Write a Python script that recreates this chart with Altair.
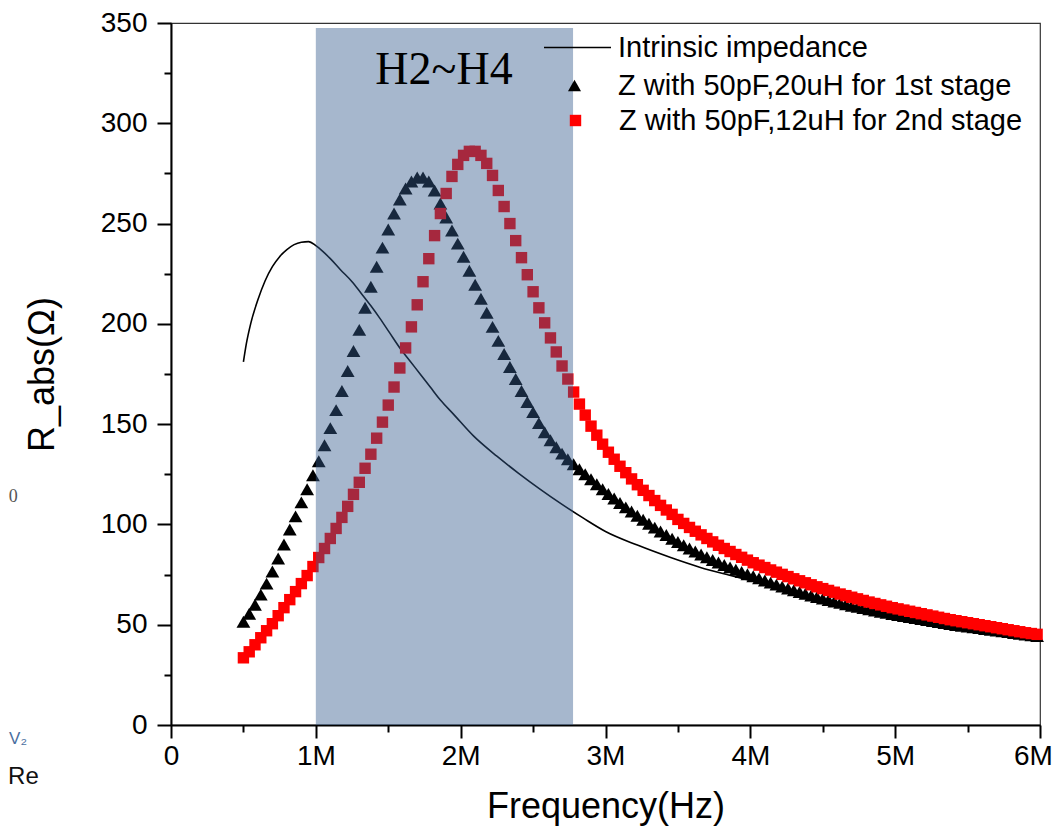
import altair as alt
import pandas as pd

# ---------------- data ----------------
series_names = ["Intrinsic impedance",
                "Z with 50pF,20uH for 1st stage",
                "Z with 50pF,12uH for 2nd stage"]

# intrinsic impedance curve (MHz, ohm)
line_freq = [0.50, 0.52, 0.55, 0.60, 0.65, 0.70, 0.75, 0.80, 0.85, 0.90, 0.95,
             1.00, 1.05, 1.10, 1.17, 1.25, 1.31, 1.38, 1.44, 1.51, 1.58, 1.65,
             1.72, 1.79, 1.86, 1.95, 2.09, 2.25, 2.40, 2.55, 2.70, 2.85, 3.00,
             3.22, 3.45, 3.65, 3.85, 4.00, 4.20, 4.41, 4.60, 4.80, 5.00, 5.25,
             5.50, 5.75, 6.00]
line_r = [181, 190, 200, 212, 221.5, 228.5, 233.5, 237, 239.5, 240.7, 241,
          239, 236, 232.5, 227, 221, 215.5, 209, 203, 195.5, 188, 181.5,
          175, 168.5, 162, 155, 144, 134, 125.5, 117.5, 110, 103, 96.5,
          89.7, 83.5, 78.7, 74.8, 72.1, 68.3, 63, 59.5, 56.5, 53.5, 50,
          47, 44.3, 41.8]

# frequency sweep of the two marker series (MHz)
sweep_freq = [0.50, 0.54, 0.58, 0.62, 0.66, 0.70, 0.74, 0.78, 0.82, 0.86,
              0.90, 0.94, 0.98, 1.02, 1.06, 1.10, 1.14, 1.18, 1.22, 1.26,
              1.30, 1.34, 1.38, 1.42, 1.46, 1.50, 1.54, 1.58, 1.62, 1.66,
              1.70, 1.74, 1.78, 1.82, 1.86, 1.90, 1.94, 1.98, 2.02, 2.06,
              2.10, 2.14, 2.18, 2.22, 2.26, 2.30, 2.34, 2.38, 2.42, 2.46,
              2.50, 2.54, 2.58, 2.62, 2.66, 2.70, 2.74, 2.78, 2.82, 2.86,
              2.90, 2.94, 2.98, 3.02, 3.06, 3.10, 3.14, 3.18, 3.22, 3.26,
              3.30, 3.34, 3.38, 3.42, 3.46, 3.50, 3.54, 3.58, 3.62, 3.66,
              3.70, 3.74, 3.78, 3.82, 3.86, 3.90, 3.94, 3.98, 4.02, 4.06,
              4.10, 4.14, 4.18, 4.22, 4.26, 4.30, 4.34, 4.38, 4.42, 4.46,
              4.50, 4.54, 4.58, 4.62, 4.66, 4.70, 4.74, 4.78, 4.82, 4.86,
              4.90, 4.94, 4.98, 5.02, 5.06, 5.10, 5.14, 5.18, 5.22, 5.26,
              5.30, 5.34, 5.38, 5.42, 5.46, 5.50, 5.54, 5.58, 5.62, 5.66,
              5.70, 5.74, 5.78, 5.82, 5.86, 5.90, 5.94, 5.98]

stage1_r = [51.5, 55.5, 60, 65, 70.5, 76.5, 83, 90, 97.5, 104,
            111, 117.5, 124.5, 131.5, 139.5, 148, 157, 166.5, 176.5, 186.5,
            197, 208, 218.5, 228.5, 238, 247, 255, 262, 267.5, 271,
            273, 273, 271, 266.5, 260, 253, 246.5, 240, 233.5, 226.5,
            219.5, 212.5, 205.5, 198.5, 191.5, 185, 178.5, 172.5, 166.5, 161,
            156, 150.5, 146, 142, 138.5, 135.3, 132.5, 130, 127.5, 125,
            122.5, 120, 117.5, 115.2, 112.9, 110.7, 108.5, 106.4, 104.3, 102.3,
            100.3, 98.4, 96.5, 94.7, 92.9, 91.2, 89.6, 88, 86.5, 85,
            83.6, 82.3, 81, 79.8, 78.6, 77.4, 76.3, 75.2, 74.2, 73.1,
            72, 71, 70, 69, 68.1, 67.2, 66.3, 65.4, 64.6, 63.8,
            63, 62.3, 61.6, 60.9, 60.2, 59.5, 58.9, 58.3, 57.7, 57.1,
            56.5, 55.9, 55.3, 54.8, 54.3, 53.8, 53.3, 52.8, 52.3, 51.8,
            51.3, 50.8, 50.3, 49.9, 49.5, 49.1, 48.7, 48.3, 47.9, 47.5,
            47.1, 46.7, 46.3, 45.9, 45.5, 45.1, 44.7, 44.3]

stage2_r = [33.5, 36.5, 40, 43.5, 47, 50.5, 54.5, 58.5, 62.5, 66.5,
            70.5, 74.5, 79, 83.5, 88, 93, 98, 103.5, 109, 115,
            121, 128, 135, 143, 151, 159.5, 168.5, 178, 188, 198.5,
            209.5, 221, 232.5, 244, 255, 265, 273.5, 279.5, 284, 286,
            286, 284, 280, 274, 266.5, 258.5, 250, 241.5, 233, 224.5,
            216, 208, 200.5, 193, 186, 179, 172.5, 166, 160, 154.5,
            149, 144.5, 140, 136, 132.5, 129, 125.8, 122.7, 119.8, 117,
            114.4, 111.9, 109.5, 107.2, 105, 102.5, 100.5, 98.5, 96.6, 94.8,
            93, 91.3, 89.6, 88, 86.5, 85, 83.6, 82.2, 80.9, 79.7,
            78.5, 77.3, 76.2, 75.1, 74, 72.9, 71.9, 70.9, 69.9, 68.9,
            68, 67.1, 66.2, 65.3, 64.5, 63.7, 62.9, 62.1, 61.3, 60.6,
            59.9, 59.2, 58.5, 57.9, 57.3, 56.7, 56.1, 55.5, 54.9, 54.3,
            53.7, 53.1, 52.5, 52, 51.5, 51, 50.5, 50, 49.5, 49,
            48.5, 48, 47.5, 47, 46.5, 46, 45.6, 45.2]

# shaded harmonic band H2~H4 (MHz, ohm)
band_start, band_end, band_top = 1.0, 2.776, 347.5
band_label = "H2~H4"
band_label_pos = (1.885, 326.5)

x_ticks = [0, 0.5, 1, 1.5, 2, 2.5, 3, 3.5, 4, 4.5, 5, 5.5, 6]
y_ticks = [0, 25, 50, 75, 100, 125, 150, 175, 200, 225, 250, 275, 300, 325, 350]

# stray fragments of the neighbouring figure at the left edge
stray_texts = ["0", "V\u2082", "Re"]
stray_pos = [(-1.12, 113.7), (-1.118, -7.0), (-1.125, -26.0)]
stray_size = [18, 17, 24]
stray_color = ["#555555", "#4a6fa0", "#111111"]
stray_font = ["Liberation Serif", "Liberation Sans", "Liberation Sans"]

# ---------------- tables ----------------
df_line = pd.DataFrame({"f": line_freq, "r": line_r, "series": series_names[0]})
df_s1 = pd.DataFrame({"f": sweep_freq, "r": stage1_r, "series": series_names[1]})
df_s2 = pd.DataFrame({"f": sweep_freq, "r": stage2_r, "series": series_names[2]})
df_band = pd.DataFrame({"x": [band_start], "x2": [band_end], "y": [0], "y2": [band_top]})
df_lab = pd.DataFrame({"x": [band_label_pos[0]], "y": [band_label_pos[1]], "t": [band_label]})

FONT = "Liberation Sans"
xscale = alt.Scale(domain=[0, 6], nice=False)
yscale = alt.Scale(domain=[0, 350], nice=False)

xaxis = alt.Axis(values=x_ticks, title="Frequency(Hz)",
                 labelExpr="datum.value % 1 === 0 ? (datum.value === 0 ? '0' : datum.value + 'M') : ''",
                 tickSize={"condition": {"test": "datum.value % 1 === 0", "value": 13}, "value": 7},
                 labelOffset={"condition": {"test": "datum.value === 6", "value": -7}, "value": 0},
                 labelPadding=4, titlePadding=19, grid=False, labelFlush=False,
                 labelFontSize=28)
yaxis = alt.Axis(values=y_ticks, title="R_abs(\u03a9)",
                 labelExpr="datum.value % 50 === 0 ? datum.label : ''",
                 tickSize={"condition": {"test": "datum.value % 50 === 0", "value": 14}, "value": 7},
                 labelPadding=10, titlePadding=39, grid=False, labelFlush=False,
                 labelFontSize=28)

X = alt.X("f:Q", scale=xscale, axis=xaxis)
Y = alt.Y("r:Q", scale=yscale, axis=yaxis)


def legend(x, y, sym, size, offset, color):
    return alt.Legend(orient="none", legendX=x, legendY=y, title=None,
                      symbolType=sym, symbolSize=size, labelOffset=offset,
                      labelFont=FONT, labelFontSize=29, labelColor="black",
                      labelLimit=700, padding=0, symbolOpacity=1,
                      symbolFillColor=color, symbolStrokeColor=color,
                      symbolStrokeWidth=1.6 if sym == "stroke" else 0)


line = alt.Chart(df_line).mark_line(strokeWidth=1.6, interpolate="monotone").encode(
    x=X, y=Y,
    color=alt.Color("series:N", scale=alt.Scale(domain=[series_names[0]], range=["black"]),
                    legend=legend(372, -10, "stroke", 4489, 6, "black")))

tri = alt.Chart(df_s1).mark_point(shape="triangle-up", filled=True, size=190, opacity=1).encode(
    x="f:Q", y="r:Q",
    color=alt.Color("series:N", scale=alt.Scale(domain=[series_names[1]], range=["black"]),
                    legend=legend(389, 48, "triangle-up", 170, 29, "black")))

sq = alt.Chart(df_s2).mark_point(shape="square", filled=True, size=130, opacity=1).encode(
    x="f:Q", y="r:Q",
    color=alt.Color("series:N", scale=alt.Scale(domain=[series_names[2]], range=["#ff0000"]),
                    legend=legend(390, 83, "square", 130, 29, "#ff0000")))

band = alt.Chart(df_band).mark_rect(color="#345a8e", opacity=0.44).encode(
    x="x:Q", x2="x2:Q", y="y:Q", y2="y2:Q")

label = alt.Chart(df_lab).mark_text(font="Liberation Serif", fontSize=46, color="black",
                                    baseline="middle", align="center").encode(
    x="x:Q", y="y:Q", text="t:N")

stray_layers = []
for t, (px, py), fs, col, fnt in zip(stray_texts, stray_pos, stray_size, stray_color, stray_font):
    d = pd.DataFrame({"x": [px], "y": [py], "t": [t]})
    stray_layers.append(
        alt.Chart(d).mark_text(font=fnt, fontSize=fs, color=col, align="left",
                               baseline="middle").encode(x="x:Q", y="y:Q", text="t:N"))

chart = alt.layer(line, tri, sq, band, label, *stray_layers).resolve_scale(
    color="independent").properties(
    width=869, height=702,
    autosize=alt.AutoSizeParams(type="none"),
    padding={"left": 163, "top": 15, "right": 13, "bottom": 102},
).configure_view(stroke="#333333", strokeWidth=1.2).configure_axis(
    domainColor="black", domainWidth=2, tickColor="black", tickWidth=2,
    labelFont=FONT, labelColor="black",
    titleFont=FONT, titleFontSize=36, titleFontWeight="normal", titleColor="black",
)

chart.save("out.html", embed_options={"renderer": "svg", "actions": False})
